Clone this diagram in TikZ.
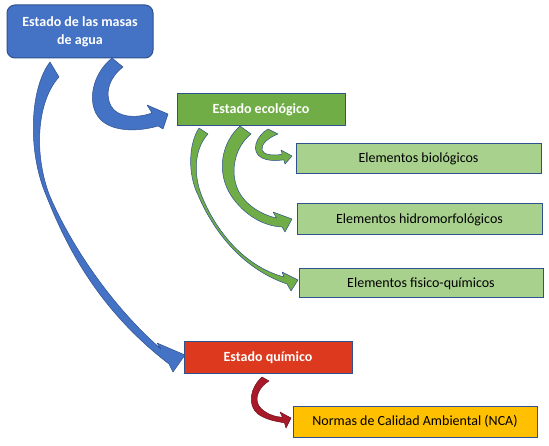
\documentclass[tikz,border=0pt]{standalone}
\usepackage{fontspec}
\setmainfont{Carlito}
\definecolor{bluefill}{HTML}{4472C4}
\definecolor{boxline}{HTML}{2F528F}
\definecolor{greenfill}{HTML}{70AD47}
\definecolor{lightgreen}{HTML}{A9D18E}
\definecolor{redfill}{RGB}{220,57,30}
\definecolor{yellowfill}{HTML}{FFC000}
\definecolor{maroon}{RGB}{168,26,42}
\definecolor{maroonline}{RGB}{110,16,28}
\begin{document}
\begin{tikzpicture}[x=1pt,y=-1pt,
  boxbase/.style={draw=boxline, line width=1pt, inner sep=0pt, font=\fontsize{14}{18}\selectfont, align=center},
  whitebox/.style={boxbase, text=white, font=\fontsize{14}{18}\selectfont\bfseries},
  blackbox/.style={boxbase, text=black},
  bluearrow/.style={fill=bluefill, draw=boxline, line width=0.5pt, line join=round},
  greenarrow/.style={fill=greenfill, draw=boxline, line width=0.5pt, line join=round},
  redarrow/.style={fill=maroon, draw=maroonline, line width=0.5pt, line join=round}]
\useasboundingbox (0,0) rectangle (549,446);
\fill[white] (0,0) rectangle (549,446);

% boxes
\node[whitebox, fill=bluefill, rounded corners=8pt, minimum width=146pt, minimum height=53pt] (b1) at (80,31.5) {Estado de las masas\\de agua};
\node[whitebox, fill=greenfill, minimum width=168pt, minimum height=32pt] (b2) at (261,110) {Estado ecológico};
\node[blackbox, fill=lightgreen, minimum width=245pt, minimum height=30pt] (b3) at (418.5,159) {Elementos biológicos};
\node[blackbox, fill=lightgreen, minimum width=245pt, minimum height=31pt] (b4) at (419.5,219.5) {Elementos hidromorfológicos};
\node[blackbox, fill=lightgreen, minimum width=244pt, minimum height=29pt] (b5) at (421,283.5) {Elementos fisico-químicos};
\node[whitebox, fill=redfill, minimum width=168pt, minimum height=31pt] (b6) at (268,357.5) {Estado químico};
\node[blackbox, fill=yellowfill, minimum width=244pt, minimum height=31pt] (b7) at (415,421.5) {Normas de Calidad Ambiental (NCA)};

% curved block arrow b1 -> b2
\filldraw[bluearrow] (112,58) .. controls (92,74) and (86,104) .. (100,119)
  .. controls (112,132) and (138,132) .. (158,126)
  -- (163,129) -- (168,114) -- (147,105) -- (152,113)
  .. controls (135,119) and (117,117) .. (111,106)
  .. controls (104,92) and (110,77) .. (123,67) -- cycle;

% long curved block arrow b1 -> b6
\filldraw[bluearrow] (50,62) .. controls (30,88) and (27,150) .. (46,195)
  .. controls (62,235) and (92,305) .. (169,364)
  -- (173,372) -- (185,355) -- (157,343) -- (161,349)
  .. controls (105,300) and (66,235) .. (49,194)
  .. controls (33,150) and (38,100) .. (59,77) -- cycle;

% green arrow b2 -> b5
\filldraw[greenarrow] (199,128) .. controls (188,145) and (188,175) .. (198,195)
  .. controls (212,228) and (240,268) .. (287,284)
  -- (291,291) -- (298,280) -- (282,272) -- (284,277)
  .. controls (240,265) and (213,225) .. (201,194)
  .. controls (193,172) and (195,148) .. (208,134) -- cycle;

% green arrow b2 -> b4
\filldraw[greenarrow] (240,126) .. controls (222,142) and (215,172) .. (232,197)
  .. controls (244,214) and (262,226) .. (282,227)
  -- (285,232) -- (292,219) -- (273,212) -- (276.6,218)
  .. controls (262,215) and (245,205) .. (238,190)
  .. controls (230,172) and (234,148) .. (251,134) -- cycle;

% green arrow b2 -> b3
\filldraw[greenarrow] (268,129) .. controls (256,136) and (250,152) .. (262,158)
  .. controls (268,161) and (276,161) .. (283.8,159.8)
  -- (285,164) -- (292,156) -- (281,150) -- (282.2,154.2)
  .. controls (274,156) and (263,155) .. (262,150)
  .. controls (261,144) and (268,138) .. (278,134) -- cycle;

% red arrow b6 -> b7
\filldraw[redarrow] (262,377) .. controls (250,388) and (247,405) .. (258,414)
  .. controls (265,419) and (273,421) .. (284.5,422.8)
  -- (286,428) -- (291,418) -- (280,412) -- (282.5,417.2)
  .. controls (274,417) and (264,413) .. (259,406)
  .. controls (254,398) and (259,387) .. (269,381) -- cycle;
\end{tikzpicture}
\end{document}
